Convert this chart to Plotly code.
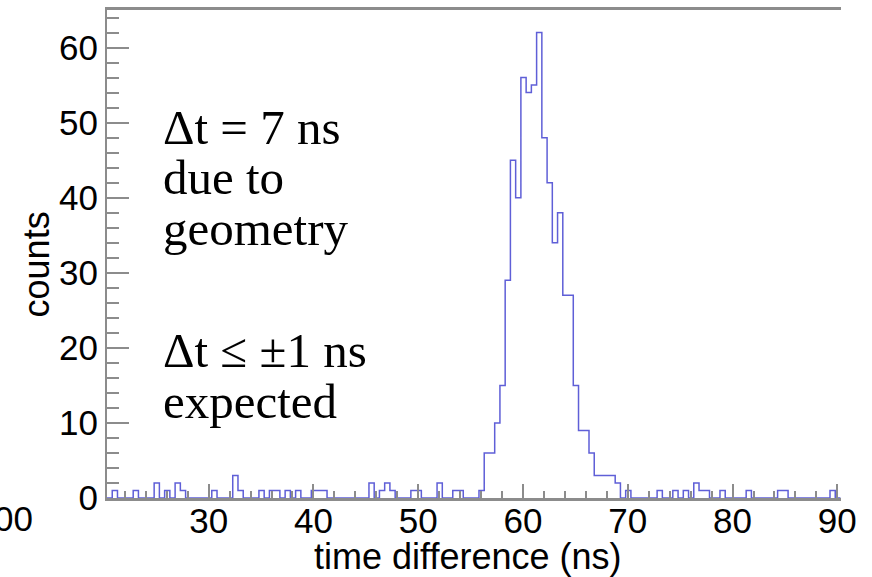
import plotly.graph_objects as go

# ---- data -------------------------------------------------------------
bin_start = 20.3          # ns, left edge of first bin
bin_width = 0.5           # ns
counts = [
    0, 1, 0, 0, 0, 1, 0, 0, 0, 2,      # bins 0-9
    0, 1, 0, 2, 1, 0, 0, 0, 0, 0,      # 10-19
    1, 0, 0, 0, 3, 1, 0, 0, 0, 1,      # 20-29
    0, 1, 1, 0, 1, 0, 1, 0, 0, 1,      # 30-39
    1, 1, 0, 0, 0, 0, 0, 0, 0, 0,      # 40-49
    2, 0, 1, 2, 1, 0, 0, 0, 1, 1,      # 50-59
    0, 0, 0, 2, 0, 0, 1, 1, 0, 0,      # 60-69
    0, 1, 6, 6, 10, 15, 29, 45, 40, 56,  # 70-79
    54, 55, 62, 48, 42, 34, 38, 27, 27, 15,  # 80-89
    9, 9, 6, 3, 3, 3, 3, 2, 0, 1,      # 90-99
    0, 0, 0, 0, 0, 1, 0, 0, 1, 0,      # 100-109
    1, 0, 2, 1, 1, 0, 0, 1, 0, 0,      # 110-119
    0, 0, 1, 0, 0, 0, 0, 0, 1, 1,      # 120-129
    0, 0, 0, 0, 0, 0, 0, 0, 1, 0,      # 130-139
]
x_tick_vals = [30, 40, 50, 60, 70, 80, 90]
y_tick_vals = [0, 10, 20, 30, 40, 50, 60]
x_title = "time difference (ns)"
y_title = "counts"
note1 = ["Δt = 7 ns", "due to", "geometry"]
note2 = ["Δt ≤ ±1 ns", "expected"]

# ---- build step outline ---------------------------------------------------
edges = [bin_start + i * bin_width for i in range(len(counts) + 1)]
steps = counts + [counts[-1]]

fig = go.Figure()
fig.add_trace(go.Scatter(
    x=edges, y=steps, mode="lines", line_shape="hv",
    line=dict(color="rgb(95,95,215)", width=1.5),
    hoverinfo="skip", showlegend=False,
))

axis_gray = "rgb(140,140,140)"
sans = "Liberation Sans, Arial"
tick_font = dict(family=sans, size=35, color="black")

fig.update_layout(
    width=872, height=577,
    margin=dict(l=107, r=31, t=7, b=79),
    paper_bgcolor="white", plot_bgcolor="white",
    showlegend=False,
    xaxis=dict(
        range=[bin_start, bin_start + bin_width * len(counts) + 0.05],
        tickmode="array", tickvals=x_tick_vals,
        ticktext=[str(v) for v in x_tick_vals],
        ticks="inside", ticklen=14, tickwidth=1.5, tickcolor=axis_gray,
        minor=dict(dtick=2, ticks="inside", ticklen=7, tickwidth=1.5, tickcolor=axis_gray),
        showline=True, linecolor=axis_gray, linewidth=2.5, mirror=True,
        showgrid=False, zeroline=False,
        tickfont=tick_font, ticklabelstandoff=-10,
    ),
    yaxis=dict(
        range=[0, 65],
        tickmode="array", tickvals=y_tick_vals,
        ticktext=[str(v) for v in y_tick_vals],
        ticks="inside", ticklen=22, tickwidth=1.5, tickcolor=axis_gray,
        minor=dict(dtick=2, ticks="inside", ticklen=12, tickwidth=1.5, tickcolor=axis_gray),
        showline=True, linecolor=axis_gray, linewidth=2, mirror=False,
        showgrid=False, zeroline=False,
        tickfont=tick_font,
    ),
)

W, H0, PH = 734, 7, 491


def px_x(px):
    return (px - 107) / W


def px_y(py):
    return 1 - (py - H0) / PH


# axis titles
fig.add_annotation(xref="paper", yref="paper", x=px_x(467), y=px_y(557),
                   xanchor="center", yanchor="middle", text=x_title, showarrow=False,
                   font=dict(family=sans, size=36, color="black"))
fig.add_annotation(xref="paper", yref="paper", x=px_x(36), y=px_y(263),
                   xanchor="center", yanchor="middle", text=y_title, showarrow=False,
                   textangle=-90, font=dict(family=sans, size=36, color="black"))

serif = dict(family="Liberation Serif, Times New Roman", size=49, color="black")
line_gap = 51
for i, t in enumerate(note1):
    fig.add_annotation(xref="paper", yref="paper", x=px_x(161),
                       y=px_y(125 + i * line_gap),
                       xanchor="left", yanchor="middle", text=t, showarrow=False,
                       font=serif)
for i, t in enumerate(note2):
    fig.add_annotation(xref="paper", yref="paper", x=px_x(161),
                       y=px_y(350 + i * line_gap),
                       xanchor="left", yanchor="middle", text=t, showarrow=False,
                       font=serif)

# clipped tick label at far left of the picture
fig.add_annotation(xref="paper", yref="paper", x=px_x(13), y=px_y(519),
                   xanchor="center", yanchor="middle", text="00", showarrow=False,
                   font=tick_font)

fig.write_html("out.html")
